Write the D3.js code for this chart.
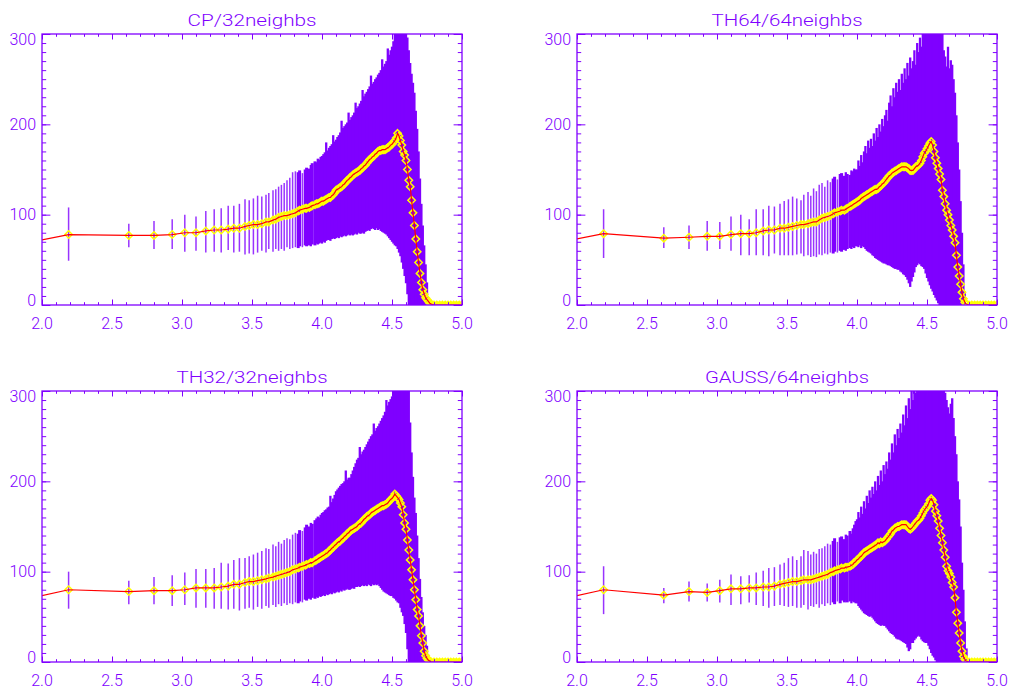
<!DOCTYPE html>
<html><head><meta charset="utf-8">
<script src="https://cdn.jsdelivr.net/npm/d3@7"></script>
<style>html,body{margin:0;padding:0;background:#fff}svg{display:block}</style>
</head><body>
<svg id="chart" width="1011" height="691"></svg>
<script>
// ---------- data ----------
const titles = ["CP/32neighbs", "TH64/64neighbs", "TH32/32neighbs", "GAUSS/64neighbs"];
const xTicks = [2.0, 2.5, 3.0, 3.5, 4.0, 4.5, 5.0];
const yTicks = [0, 100, 200, 300];

const xValues = [
  1.90, 2.19, 2.62, 2.80, 2.93, 3.02, 3.10, 3.17, 3.23, 3.28,
  3.33, 3.37, 3.41, 3.45, 3.48, 3.51, 3.54, 3.57, 3.60, 3.62,
  3.65, 3.67, 3.69, 3.71, 3.73, 3.75, 3.77, 3.79, 3.81, 3.83,
  3.84, 3.86, 3.88, 3.89, 3.91, 3.92, 3.93, 3.95, 3.96, 3.97,
  3.98, 3.99,
  4.00, 4.01, 4.02, 4.03, 4.04, 4.05, 4.06, 4.07, 4.08, 4.09,
  4.10, 4.11, 4.12, 4.13, 4.14, 4.15, 4.16, 4.17, 4.18, 4.19,
  4.20, 4.21, 4.22, 4.23, 4.24, 4.25, 4.26, 4.27, 4.28, 4.29,
  4.30, 4.31, 4.32, 4.33, 4.34, 4.35, 4.36, 4.37, 4.38, 4.39,
  4.40, 4.41, 4.42, 4.43, 4.44, 4.45, 4.46, 4.47, 4.48, 4.49,
  4.50, 4.51, 4.52, 4.53, 4.54, 4.55, 4.56, 4.57, 4.58, 4.59,
  4.60, 4.61, 4.62, 4.63, 4.64, 4.65, 4.66, 4.67, 4.68, 4.69,
  4.70, 4.71, 4.72, 4.73, 4.74, 4.75, 4.76, 4.77, 4.78,
  4.80, 4.82, 4.84, 4.86, 4.88, 4.90, 4.92, 4.94, 4.96, 4.98, 5.00
];

// CP / 32 neighbours
const meanCP = [
  69, 78, 77, 77, 78, 80, 80, 82, 83, 83,
  84, 85, 85, 87, 88, 89, 89, 90, 92, 92,
  94, 95, 97, 98, 99, 99, 100, 101, 102, 104,
  105, 106, 107, 107, 108, 109, 110, 111, 112, 112,
  113, 114,
  115, 115, 116, 117, 118, 119, 119, 121, 122, 124,
  127, 128, 129, 130, 131, 133, 134, 136, 138, 139,
  141, 142, 144, 145, 146, 147, 148, 149, 151, 152,
  154, 155, 157, 159, 161, 162, 164, 165, 167, 168,
  170, 171, 171, 172, 172, 172, 173, 174, 175, 177,
  178, 180, 182, 185, 190, 187, 182, 177, 170, 166,
  160, 150, 138, 131, 116, 102, 88, 73, 59, 47,
  35, 25, 17, 12, 8, 6, 4, 2, 1,
  0, 0, 0, 0, 0, 0, 0, 0, 0, 0, 0
];
const loCP = [
  44, 49, 64, 62, 62, 59, 60, 58, 59, 58,
  61, 58, 59, 56, 57, 56, 58, 60, 58, 62,
  59, 62, 60, 62, 60, 64, 62, 63, 64, 63,
  65, 64, 66, 65, 66, 65, 67, 66, 68, 67,
  68, 69,
  68, 70, 69, 71, 72, 72, 71, 73, 74, 73,
  74, 75, 74, 76, 75, 76, 77, 76, 77, 78,
  77, 78, 77, 78, 79, 78, 80, 79, 79, 80,
  79, 81, 82, 83, 82, 84, 85, 84, 83, 85,
  83, 84, 82, 81, 80, 79, 78, 76, 74, 72,
  70, 68, 66, 65, 62, 58, 54, 47, 40, 32,
  24, 12, -5, -20, -20, -20, -20, -20, -20, -20,
  -20, -20, -20, -20, -20, -20, -20, -20, -20,
  0, 0, 0, 0, 0, 0, 0, 0, 0, 0, 0
];
const hiCP = [
  94, 108, 90, 93, 95, 100, 98, 104, 106, 107,
  110, 110, 112, 117, 116, 118, 121, 120, 122, 124,
  127, 128, 131, 133, 135, 138, 141, 147, 148, 147,
  149, 146, 150, 152, 151, 155, 157, 159, 158, 162,
  161, 164,
  165, 167, 169, 180, 171, 174, 176, 178, 188, 181,
  183, 186, 188, 191, 204, 196, 198, 200, 202, 213,
  205, 208, 210, 213, 224, 218, 220, 223, 226, 238,
  231, 234, 236, 239, 242, 254, 245, 247, 250, 252,
  255, 257, 260, 272, 264, 267, 270, 284, 277, 282,
  286, 292, 300, 320, 320, 320, 320, 320, 320, 320,
  320, 296, 282, 268, 256, 246, 235, 215, 195, 170,
  140, 112, 88, 66, 45, 25, 6, 1, 0,
  0, 0, 0, 0, 0, 0, 0, 0, 0, 0, 0
];

// TH64 / 64 neighbours
const meanTH64 = [
  70, 79, 74, 75, 76, 76, 78, 79, 79, 80,
  82, 83, 83, 85, 85, 86, 87, 88, 89, 89,
  90, 91, 92, 92, 94, 96, 97, 98, 99, 101,
  102, 103, 104, 105, 105, 106, 107, 109, 110, 111,
  112, 113,
  114, 115, 116, 118, 119, 120, 121, 122, 123, 124,
  125, 126, 127, 128, 128, 129, 131, 132, 134, 135,
  137, 139, 141, 143, 144, 146, 147, 148, 149, 150,
  151, 152, 153, 153, 153, 153, 152, 151, 149, 149,
  149, 151, 153, 154, 155, 157, 160, 164, 168, 170,
  173, 176, 179, 181, 177, 170, 163, 157, 151, 145,
  139, 127, 120, 112, 105, 100, 94, 88, 83, 76,
  69, 55, 42, 32, 23, 14, 7, 3, 1,
  0, 0, 0, 0, 0, 0, 0, 0, 0, 0, 0
];
const loTH64 = [
  45, 52, 63, 62, 60, 62, 60, 55, 55, 55,
  55, 54, 57, 55, 55, 55, 55, 56, 57, 54,
  55, 53, 54, 53, 56, 55, 57, 56, 58, 57,
  59, 58, 60, 59, 61, 60, 62, 63, 62, 64,
  63, 65,
  65, 64, 66, 63, 65, 64, 62, 60, 59, 58,
  57, 55, 54, 52, 51, 50, 49, 48, 47, 46,
  46, 45, 44, 44, 43, 42, 41, 40, 40, 39,
  39, 37, 36, 34, 33, 31, 28, 24, 20, 26,
  31, 36, 42, 44, 46, 45, 43, 42, 40, 35,
  30, 26, 22, 18, 15, 11, 8, 5, 2, -5,
  -20, -20, -20, -20, -20, -20, -20, -20, -20, -20,
  -20, -20, -20, -20, -20, -20, -20, -20, -20,
  0, 0, 0, 0, 0, 0, 0, 0, 0, 0, 0
];
const hiTH64 = [
  95, 106, 86, 88, 93, 92, 98, 100, 95, 106,
  106, 110, 109, 112, 115, 117, 120, 118, 116, 122,
  125, 121, 129, 126, 133, 135, 131, 138, 136, 140,
  142, 139, 145, 146, 143, 147, 145, 144, 149, 148,
  151, 150,
  150, 160, 154, 166, 158, 170, 176, 168, 182, 174,
  184, 176, 190, 182, 196, 186, 200, 192, 206, 198,
  210, 216, 204, 224, 232, 220, 240, 230, 246, 236,
  250, 238, 256, 246, 262, 250, 268, 254, 274, 262,
  270, 282, 266, 290, 280, 296, 286, 300, 320, 320,
  320, 320, 320, 320, 320, 320, 320, 320, 320, 320,
  320, 310, 282, 275, 264, 286, 262, 271, 266, 250,
  235, 210, 180, 150, 115, 80, 45, 15, 0,
  0, 0, 0, 0, 0, 0, 0, 0, 0, 0, 0
];

// TH32 / 32 neighbours
const meanTH32 = [
  70, 80, 78, 79, 79, 80, 82, 82, 82, 83,
  84, 86, 86, 88, 89, 89, 90, 91, 92, 93,
  94, 95, 96, 97, 98, 99, 100, 102, 103, 104,
  105, 106, 107, 108, 109, 110, 110, 112, 113, 114,
  115, 116,
  117, 118, 119, 120, 121, 123, 124, 126, 127, 129,
  130, 132, 133, 134, 136, 137, 139, 140, 142, 143,
  145, 146, 147, 148, 149, 150, 152, 153, 154, 156,
  158, 159, 161, 162, 163, 165, 166, 167, 168, 169,
  170, 171, 172, 173, 173, 174, 175, 176, 178, 180,
  181, 183, 186, 184, 182, 180, 176, 172, 163, 154,
  147, 135, 124, 113, 102, 91, 80, 69, 58, 51,
  40, 29, 21, 12, 7, 4, 2, 1, 0,
  0, 0, 0, 0, 0, 0, 0, 0, 0, 0, 0
];
const loTH32 = [
  50, 59, 64, 64, 62, 63, 60, 60, 59, 59,
  58, 59, 57, 59, 60, 58, 61, 59, 62, 60,
  63, 61, 64, 62, 65, 63, 65, 64, 66, 65,
  67, 66, 69, 68, 70, 69, 71, 70, 72, 71,
  73, 72,
  73, 74, 73, 75, 74, 75, 76, 75, 77, 76,
  77, 78, 77, 79, 78, 80, 79, 80, 81, 80,
  80, 81, 82, 81, 83, 83, 84, 83, 84, 85,
  84, 85, 84, 86, 85, 84, 86, 85, 86, 85,
  86, 84, 82, 80, 78, 77, 76, 75, 74, 73,
  73, 71, 70, 68, 66, 65, 60, 55, 51, 42,
  32, 14, -5, -20, -20, -20, -20, -20, -20, -20,
  -20, -20, -20, -20, -20, -20, -20, -20, -20,
  0, 0, 0, 0, 0, 0, 0, 0, 0, 0, 0
];
const hiTH32 = [
  90, 100, 90, 94, 96, 99, 103, 103, 104, 110,
  109, 113, 115, 115, 117, 119, 121, 123, 126, 125,
  130, 128, 133, 131, 135, 137, 136, 141, 143, 142,
  146, 145, 149, 152, 150, 154, 153, 157, 159, 161,
  160, 163,
  165, 166, 168, 169, 171, 172, 184, 177, 181, 185,
  189, 191, 193, 195, 197, 198, 200, 212, 202, 204,
  204, 208, 212, 216, 220, 224, 226, 238, 230, 233,
  235, 238, 241, 244, 247, 250, 252, 264, 256, 259,
  261, 264, 267, 270, 273, 277, 290, 284, 288, 291,
  294, 300, 320, 320, 320, 320, 320, 320, 320, 320,
  320, 320, 305, 265, 232, 205, 182, 165, 140, 115,
  92, 72, 55, 40, 30, 18, 8, 2, 0,
  0, 0, 0, 0, 0, 0, 0, 0, 0, 0, 0
];

// GAUSS / 64 neighbours
const meanGAUSS = [
  70, 80, 74, 78, 77, 79, 81, 81, 82, 82,
  83, 83, 84, 86, 87, 88, 89, 89, 90, 91,
  91, 91, 92, 93, 94, 95, 96, 97, 99, 100,
  101, 102, 103, 104, 104, 105, 105, 106, 107, 108,
  110, 111,
  113, 114, 116, 117, 119, 121, 122, 123, 124, 125,
  126, 127, 128, 129, 130, 132, 131, 133, 132, 133,
  134, 136, 138, 140, 142, 145, 146, 148, 149, 150,
  150, 151, 152, 152, 152, 152, 150, 148, 147, 148,
  150, 152, 154, 156, 157, 159, 162, 165, 168, 170,
  172, 175, 179, 181, 179, 174, 167, 162, 156, 148,
  140, 132, 124, 116, 106, 101, 98, 94, 88, 83,
  71, 55, 43, 32, 21, 12, 6, 3, 1,
  0, 0, 0, 0, 0, 0, 0, 0, 0, 0, 0
];
const loGAUSS = [
  45, 53, 65, 67, 67, 66, 63, 64, 66, 63,
  62, 60, 62, 63, 62, 61, 62, 60, 60, 63,
  58, 62, 61, 64, 60, 64, 62, 65, 63, 66,
  64, 67, 65, 68, 66, 68, 66, 67, 65, 67,
  66, 65,
  65, 62, 60, 58, 56, 54, 53, 52, 51, 50,
  51, 49, 47, 45, 43, 42, 41, 40, 41, 40,
  40, 38, 36, 34, 32, 31, 30, 28, 26, 25,
  25, 24, 23, 22, 21, 20, 16, 12, 14, 21,
  21, 24, 26, 28, 29, 28, 25, 23, 22, 21,
  21, 18, 14, 10, 7, 5, 2, -3, -20, -20,
  -20, -20, -20, -20, -20, -20, -20, -20, -20, -20,
  -20, -20, -20, -20, -20, -20, -20, -20, -20,
  0, 0, 0, 0, 0, 0, 0, 0, 0, 0, 0
];
const hiGAUSS = [
  95, 106, 82, 89, 87, 91, 97, 95, 96, 99,
  101, 104, 105, 108, 110, 115, 117, 113, 117, 124,
  123, 119, 122, 120, 125, 126, 128, 131, 130, 134,
  137, 133, 138, 139, 136, 141, 140, 145, 142, 148,
  152, 156,
  158, 166, 160, 172, 164, 178, 170, 184, 176, 190,
  182, 194, 186, 200, 190, 206, 196, 212, 200, 218,
  208, 222, 214, 232, 224, 242, 232, 252, 240, 258,
  248, 264, 254, 274, 262, 284, 270, 292, 280, 300,
  290, 310, 298, 320, 320, 320, 320, 320, 320, 320,
  320, 320, 320, 320, 320, 320, 320, 320, 320, 320,
  320, 310, 305, 298, 290, 282, 275, 286, 292, 270,
  250, 230, 200, 180, 150, 110, 80, 45, 15,
  0, 0, 0, 0, 0, 0, 0, 0, 0, 0, 0
];

const seriesMean = [meanCP, meanTH64, meanTH32, meanGAUSS];
const seriesLo = [loCP, loTH64, loTH32, loGAUSS];
const seriesHi = [hiCP, hiTH64, hiTH32, hiGAUSS];

// ---------- layout / style ----------
const frames = [[42, 462, 34, 305], [577, 997, 34, 305], [42, 462, 391, 662], [577, 997, 391, 662]];
const titleWidths = [129, 151, 151, 164];
const PURPLE = "#7f00ff";
const AXIS = "#8000ff";
const FONT = "Roboto, 'DejaVu Sans', sans-serif";

const svg = d3.select("#chart");
const defs = svg.append("defs");

titles.forEach((title, i) => {
  const [x0, x1, y0, y1] = frames[i];
  const x = d3.scaleLinear().domain([2, 5]).range([x0, x1]);
  const y = d3.scaleLinear().domain([0, 300]).range([y1, y0]);
  const mean = seriesMean[i], lo = seriesLo[i], hi = seriesHi[i];
  const n = Math.min(xValues.length, mean.length, lo.length, hi.length);
  const pts = d3.range(n).map(k => ({x: xValues[k], m: mean[k], lo: lo[k], hi: hi[k]}));
  // spacing between neighbouring bars (px), used to decide whether they merge into a solid band
  pts.forEach((d, k) => {
    const gp = k > 0 ? x(d.x) - x(pts[k - 1].x) : 99;
    const gn = k < n - 1 ? x(pts[k + 1].x) - x(d.x) : 99;
    d.gap = (gp + gn) / 2;
  });

  defs.append("clipPath").attr("id", "clip" + i)
    .append("rect").attr("x", x0).attr("y", y0).attr("width", x1 - x0).attr("height", y1 - y0);

  const g = svg.append("g");
  const plot = g.append("g").attr("clip-path", `url(#clip${i})`);

  // error bars
  plot.append("g").selectAll("line").data(pts).join("line")
    .attr("x1", d => x(d.x)).attr("x2", d => x(d.x))
    .attr("y1", d => y(d.lo)).attr("y2", d => y(d.hi))
    .attr("stroke", PURPLE)
    .attr("stroke-width", d => d.gap < 2.2 ? d.gap + 0.9 : 1.5)
    .attr("stroke-opacity", d => d.gap < 2.2 ? 1 : 0.8);

  // diamonds
  const r = 3.7;
  plot.append("g").selectAll("path").data(pts).join("path")
    .attr("d", d => {
      const cx = x(d.x), cy = y(d.m);
      return `M${cx},${cy - r}L${cx + r},${cy}L${cx},${cy + r}L${cx - r},${cy}Z`;
    })
    .attr("fill", "none").attr("stroke", "#ffff00").attr("stroke-width", 1.5);

  // mean line
  plot.append("path").datum(pts)
    .attr("d", d3.line().x(d => x(d.x)).y(d => y(d.m)))
    .attr("fill", "none").attr("stroke", "#ff0000").attr("stroke-width", 1.2);

  // axes (IDL box style, ticks inward on all four sides)
  const xMinor = d3.range(20, 51).map(v => v / 10);
  const yMinor = d3.range(0, 31).map(v => v * 10);
  const axes = g.append("g").attr("color", AXIS);
  const clean = s => { s.select(".domain").remove(); s.selectAll("line").attr("stroke-width", 1); };
  axes.append("g").attr("transform", `translate(0,${y1})`)
    .call(d3.axisBottom(x).tickValues(xMinor).tickSize(-2.8).tickFormat("")).call(clean);
  axes.append("g").attr("transform", `translate(0,${y1})`)
    .call(d3.axisBottom(x).tickValues(xTicks).tickSize(-5.5).tickFormat("")).call(clean);
  axes.append("g").attr("transform", `translate(0,${y0})`)
    .call(d3.axisTop(x).tickValues(xMinor).tickSize(-2.8).tickFormat("")).call(clean);
  axes.append("g").attr("transform", `translate(0,${y0})`)
    .call(d3.axisTop(x).tickValues(xTicks).tickSize(-5.5).tickFormat("")).call(clean);
  axes.append("g").attr("transform", `translate(${x0},0)`)
    .call(d3.axisLeft(y).tickValues(yMinor).tickSize(-4.2).tickFormat("")).call(clean);
  axes.append("g").attr("transform", `translate(${x0},0)`)
    .call(d3.axisLeft(y).tickValues(yTicks).tickSize(-8.4).tickFormat("")).call(clean);
  axes.append("g").attr("transform", `translate(${x1},0)`)
    .call(d3.axisRight(y).tickValues(yMinor).tickSize(-4.2).tickFormat("")).call(clean);
  axes.append("g").attr("transform", `translate(${x1},0)`)
    .call(d3.axisRight(y).tickValues(yTicks).tickSize(-8.4).tickFormat("")).call(clean);

  g.append("rect").attr("x", x0).attr("y", y0).attr("width", x1 - x0).attr("height", y1 - y0)
    .attr("fill", "none").attr("stroke", AXIS).attr("stroke-width", 1.3);

  // tick labels
  const fmt = d3.format(".1f");
  g.append("g").selectAll("text").data(xTicks).join("text")
    .attr("x", d => x(d)).attr("y", y1 + 23.5)
    .attr("text-anchor", "middle")
    .attr("font-family", FONT).attr("font-size", 16).attr("font-weight", 300)
    .attr("fill", AXIS).text(d => fmt(d));
  g.append("g").selectAll("text").data(yTicks).join("text")
    .attr("x", x0 - 6)
    .attr("y", d => Math.max(y0 + 5.5, Math.min(y1 - 4.5, y(d))) + 5.6)
    .attr("text-anchor", "end")
    .attr("font-family", FONT).attr("font-size", 16).attr("font-weight", 300)
    .attr("fill", AXIS).text(d => d);

  // title
  g.append("text")
    .attr("x", (x0 + x1) / 2).attr("y", y0 - 7.6)
    .attr("text-anchor", "middle")
    .attr("font-family", FONT).attr("font-size", 16).attr("font-weight", 300)
    .attr("textLength", titleWidths[i]).attr("lengthAdjust", "spacingAndGlyphs")
    .attr("fill", AXIS).text(title);
});
</script>
</body></html>
